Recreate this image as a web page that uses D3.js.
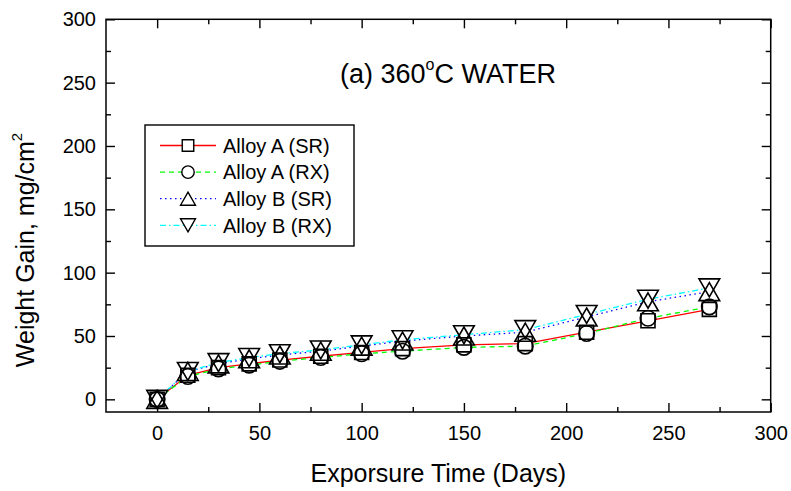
<!DOCTYPE html>
<head>
<meta charset="utf-8">
<script src="https://cdn.jsdelivr.net/npm/d3@7"></script>
<style>
body{
  margin: 0px;
  background: white;
  font-family: "Liberation Sans", Arial, sans-serif;
}
svg text{
  fill: black;
}
</style>
</head>
<body>
<div id="graph"></div>
<script>

// DATA -------------------------------------------------------------

var days = [0, 15, 30, 45, 60, 80, 100, 120, 150, 180, 210, 240, 270];

var alloyA_SR = [0, 19, 25, 28, 31, 34, 37, 40, 43, 44, 53, 62, 71];
var alloyA_RX = [0, 18, 24, 27, 30, 33, 36, 38, 41, 42, 52, 64, 73];
var alloyB_SR = [0, 22, 28, 32, 35, 38, 42, 46, 50, 53, 65, 77, 85];
var alloyB_RX = [0, 22, 29, 33, 36, 39, 43, 47, 51, 55, 67, 79, 88];

var seriesNames = ["Alloy A (SR)", "Alloy A (RX)", "Alloy B (SR)", "Alloy B (RX)"];

var xTicks = [0, 50, 100, 150, 200, 250, 300];
var xMinor = [25, 75, 125, 175, 225, 275];
var yTicks = [0, 50, 100, 150, 200, 250, 300];
var yMinor = [25, 75, 125, 175, 225, 275];
// END --------------------------------------------------------------


// series styles
var series = [
  {name: seriesNames[0], values: alloyA_SR, color: "#ff0000", dash: null,          shape: "square"},
  {name: seriesNames[1], values: alloyA_RX, color: "#00ff00", dash: "5,4",         shape: "circle"},
  {name: seriesNames[2], values: alloyB_SR, color: "#0000ff", dash: "1.5,3.5",     shape: "up"},
  {name: seriesNames[3], values: alloyB_RX, color: "#00ffff", dash: "6,3,1.5,3",   shape: "down"}
];

var W = 791, H = 491;
var margin = {top: 19.3, right: 20.3, bottom: 79, left: 106};
var width = W - margin.left - margin.right,
    height = H - margin.top - margin.bottom;

var x = d3.scaleLinear().domain([-25, 300]).range([0, width]);
var y = d3.scaleLinear().domain([-10, 300]).range([height, 0]);

var svg = d3.select("#graph").append("svg")
    .attr("width", W)
    .attr("height", H);

var g = svg.append("g")
    .attr("transform", "translate(" + margin.left + "," + margin.top + ")");

// marker paths, centred on bounding box
function shapePath(type, s){
  var p = d3.path();
  if (type == "square"){
    p.rect(-s/2, -s/2, s, s);
  } else if (type == "circle"){
    p.moveTo(s/2, 0);
    p.arc(0, 0, s/2, 0, 2*Math.PI);
  } else if (type == "up"){
    var w = s*1.15, h = s;
    p.moveTo(0, -h/2); p.lineTo(w/2, h/2); p.lineTo(-w/2, h/2); p.closePath();
  } else {
    var w = s*1.15, h = s;
    p.moveTo(0, h/2); p.lineTo(w/2, -h/2); p.lineTo(-w/2, -h/2); p.closePath();
  }
  return p.toString();
}
var markerSize = {square: 14, circle: 15.5, up: 18, down: 18};
var legendSize = {square: 11.5, circle: 12.5, up: 13, down: 13};

// axes ---------------------------------------------------------------
function styleAxis(sel){
  sel.select(".domain").remove();
  sel.selectAll("line").attr("stroke", "black").attr("stroke-width", 1.4);
  sel.selectAll("text").attr("font-size", 20).attr("font-family", "Liberation Sans, Arial, sans-serif").attr("fill", "black");
}

g.append("g")
    .attr("transform", "translate(0," + height + ")")
    .call(d3.axisBottom(x).tickValues(xTicks).tickSize(-9).tickPadding(14).tickFormat(d3.format("d")))
    .call(styleAxis);
g.append("g")
    .attr("transform", "translate(0," + height + ")")
    .call(d3.axisBottom(x).tickValues(xMinor).tickSize(-5).tickFormat(""))
    .call(styleAxis);
g.append("g")
    .call(d3.axisTop(x).tickValues(xTicks).tickSize(-9).tickFormat(""))
    .call(styleAxis);
g.append("g")
    .call(d3.axisTop(x).tickValues(xMinor).tickSize(-5).tickFormat(""))
    .call(styleAxis);

g.append("g")
    .call(d3.axisLeft(y).tickValues(yTicks).tickSize(-9).tickPadding(10).tickFormat(d3.format("d")))
    .call(styleAxis);
g.append("g")
    .call(d3.axisLeft(y).tickValues(yMinor).tickSize(-5).tickFormat(""))
    .call(styleAxis);
g.append("g")
    .attr("transform", "translate(" + width + ",0)")
    .call(d3.axisRight(y).tickValues(yTicks).tickSize(-9).tickFormat(""))
    .call(styleAxis);
g.append("g")
    .attr("transform", "translate(" + width + ",0)")
    .call(d3.axisRight(y).tickValues(yMinor).tickSize(-5).tickFormat(""))
    .call(styleAxis);

// frame
g.append("rect")
    .attr("width", width)
    .attr("height", height)
    .attr("fill", "none")
    .attr("stroke", "black")
    .attr("stroke-width", 1.5);

// series lines -------------------------------------------------------
var line = d3.line()
    .x(function(d){ return x(d[0]); })
    .y(function(d){ return y(d[1]); });

series.forEach(function(s){
  g.append("path")
      .datum(days.map(function(d, i){ return [d, s.values[i]]; }))
      .attr("d", line)
      .attr("fill", "none")
      .attr("stroke", s.color)
      .attr("stroke-width", 1.3)
      .attr("stroke-dasharray", s.dash);
});

// markers: white fills first so lines are hidden, then all outlines on top
["white", "none"].forEach(function(fill){
  series.forEach(function(s){
    g.append("g").selectAll("path")
        .data(days.map(function(d, i){ return [d, s.values[i]]; }))
        .enter().append("path")
        .attr("transform", function(d){ return "translate(" + x(d[0]) + "," + y(d[1]) + ")"; })
        .attr("d", shapePath(s.shape, markerSize[s.shape]))
        .attr("fill", fill)
        .attr("stroke", fill == "white" ? "none" : "black")
        .attr("stroke-width", 1.6);
  });
});

// legend ---------------------------------------------------------------
var legend = svg.append("g").attr("transform", "translate(145,125)");
legend.append("rect")
    .attr("width", 209)
    .attr("height", 121)
    .attr("fill", "white")
    .attr("stroke", "black")
    .attr("stroke-width", 1.4);

series.forEach(function(s, i){
  var row = legend.append("g").attr("transform", "translate(0," + (20.5 + i*26.6) + ")");
  row.append("line")
      .attr("x1", 15).attr("x2", 71)
      .attr("stroke", s.color)
      .attr("stroke-width", 1.3)
      .attr("stroke-dasharray", s.dash);
  row.append("path")
      .attr("transform", "translate(43,0)")
      .attr("d", shapePath(s.shape, legendSize[s.shape]))
      .attr("fill", "white")
      .attr("stroke", "black")
      .attr("stroke-width", 1.4);
  row.append("text")
      .attr("x", 78)
      .attr("y", 7.3)
      .attr("font-size", 20)
      .text(s.name);
});

// titles ---------------------------------------------------------------
var title = svg.append("text")
    .attr("x", 340)
    .attr("y", 83)
    .attr("font-size", 27);
title.append("tspan").text("(a) 360");
title.append("tspan").attr("font-size", 16).attr("dy", -13).text("o");
title.append("tspan").attr("dy", 13).text("C WATER");

svg.append("text")
    .attr("x", margin.left + x(137.5))
    .attr("y", 482)
    .attr("text-anchor", "middle")
    .attr("font-size", 25)
    .text("Exporsure Time (Days)");

var ylab = svg.append("text")
    .attr("transform", "translate(34,250) rotate(-90)")
    .attr("text-anchor", "middle")
    .attr("font-size", 25);
ylab.append("tspan").text("Weight Gain, mg/cm");
ylab.append("tspan").attr("font-size", 15).attr("dy", -12).text("2");

</script>
</body>
